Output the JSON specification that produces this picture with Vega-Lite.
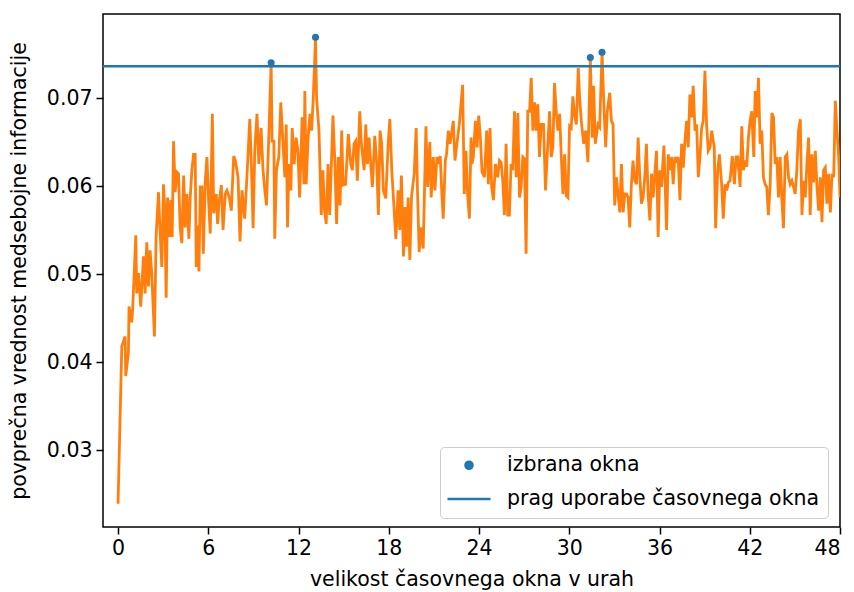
{
"$schema": "https://vega.github.io/schema/vega-lite/v6.json",
"width": 737, "height": 513,
"autosize": {"type": "none"},
"padding": {"left": 103, "top": 14, "right": 14, "bottom": 65},
"background": "white",
"config": {"view": {"stroke": "black", "strokeWidth": 1.5}, "font": "DejaVu Sans",
"legend": {"orient": "none", "legendX": 337, "legendY": 433, "title": null,
"labelFontSize": 20.5, "labelFont": "DejaVu Sans", "labelColor": "black", "labelLimit": 500,
"symbolStrokeWidth": 2.5, "symbolStrokeColor": "#1f77b4", "symbolOffset": -2,
"strokeColor": "#cccccc", "fillColor": "white", "cornerRadius": 4, "padding": 8,
"rowPadding": -2, "labelOffset": 15}},
"datasets": {
"sel": [{"h":10.18,"v":0.074,"s":"izbrana okna"},{"h":13.13,"v":0.0769,"s":"izbrana okna"},{"h":31.4,"v":0.0746,"s":"izbrana okna"},{"h":32.18,"v":0.0752,"s":"izbrana okna"}],
"thr": [{"v":0.07362}],
"mi": [{"h":0,"v":0.0239},{"h":0.25,"v":0.0418},{"h":0.47,"v":0.0429},{"h":0.51,"v":0.0384},{"h":0.69,"v":0.0411},{"h":0.73,"v":0.0463},{"h":0.91,"v":0.0445},{"h":0.98,"v":0.0463},{"h":1.18,"v":0.0544},{"h":1.24,"v":0.0478},{"h":1.36,"v":0.0501},{"h":1.51,"v":0.0463},{"h":1.69,"v":0.052},{"h":1.8,"v":0.0478},{"h":1.91,"v":0.0536},{"h":2.02,"v":0.0486},{"h":2.13,"v":0.0527},{"h":2.24,"v":0.0501},{"h":2.42,"v":0.0429},{"h":2.53,"v":0.0542},{"h":2.69,"v":0.0593},{"h":2.8,"v":0.0546},{"h":2.91,"v":0.0508},{"h":3.02,"v":0.0602},{"h":3.1,"v":0.0576},{"h":3.2,"v":0.0473},{"h":3.29,"v":0.0587},{"h":3.42,"v":0.0542},{"h":3.51,"v":0.0584},{"h":3.6,"v":0.0542},{"h":3.69,"v":0.0651},{"h":3.8,"v":0.0593},{"h":3.91,"v":0.0616},{"h":4.02,"v":0.0614},{"h":4.13,"v":0.0553},{"h":4.24,"v":0.0535},{"h":4.36,"v":0.0612},{"h":4.47,"v":0.0553},{"h":4.58,"v":0.0591},{"h":4.71,"v":0.054},{"h":4.8,"v":0.0587},{"h":4.91,"v":0.0618},{"h":5.02,"v":0.0636},{"h":5.13,"v":0.0636},{"h":5.2,"v":0.0508},{"h":5.29,"v":0.0555},{"h":5.38,"v":0.0503},{"h":5.47,"v":0.0599},{"h":5.58,"v":0.0599},{"h":5.67,"v":0.0523},{"h":5.8,"v":0.0606},{"h":5.91,"v":0.0633},{"h":6.02,"v":0.0584},{"h":6.13,"v":0.0546},{"h":6.27,"v":0.0682},{"h":6.36,"v":0.0569},{"h":6.53,"v":0.0591},{"h":6.62,"v":0.0557},{"h":6.71,"v":0.058},{"h":6.87,"v":0.0601},{"h":6.98,"v":0.055},{"h":7.13,"v":0.0591},{"h":7.24,"v":0.0595},{"h":7.4,"v":0.0587},{"h":7.53,"v":0.0572},{"h":7.69,"v":0.0634},{"h":7.8,"v":0.0629},{"h":7.98,"v":0.061},{"h":8.11,"v":0.0537},{"h":8.24,"v":0.0595},{"h":8.42,"v":0.0563},{"h":8.58,"v":0.0614},{"h":8.76,"v":0.0676},{"h":8.87,"v":0.0621},{"h":8.98,"v":0.0552},{"h":9.09,"v":0.064},{"h":9.24,"v":0.0682},{"h":9.36,"v":0.0625},{"h":9.51,"v":0.0666},{"h":9.64,"v":0.0618},{"h":9.76,"v":0.0595},{"h":9.87,"v":0.0578},{"h":10.02,"v":0.0655},{"h":10.18,"v":0.074},{"h":10.24,"v":0.0651},{"h":10.36,"v":0.0651},{"h":10.42,"v":0.054},{"h":10.53,"v":0.0618},{"h":10.69,"v":0.0633},{"h":10.82,"v":0.0695},{"h":10.96,"v":0.0651},{"h":11.09,"v":0.061},{"h":11.18,"v":0.067},{"h":11.27,"v":0.0553},{"h":11.36,"v":0.0625},{"h":11.49,"v":0.0595},{"h":11.58,"v":0.0666},{"h":11.71,"v":0.0625},{"h":11.84,"v":0.0655},{"h":11.96,"v":0.064},{"h":12.07,"v":0.0587},{"h":12.16,"v":0.0633},{"h":12.24,"v":0.0678},{"h":12.36,"v":0.0602},{"h":12.42,"v":0.0708},{"h":12.51,"v":0.0602},{"h":12.64,"v":0.0655},{"h":12.76,"v":0.0682},{"h":12.87,"v":0.0663},{"h":12.98,"v":0.07},{"h":13.13,"v":0.0769},{"h":13.2,"v":0.07},{"h":13.36,"v":0.0663},{"h":13.51,"v":0.0567},{"h":13.62,"v":0.0618},{"h":13.73,"v":0.0572},{"h":13.84,"v":0.0557},{"h":13.96,"v":0.0625},{"h":14.07,"v":0.0567},{"h":14.2,"v":0.0633},{"h":14.29,"v":0.068},{"h":14.42,"v":0.0625},{"h":14.53,"v":0.0557},{"h":14.64,"v":0.0633},{"h":14.76,"v":0.0578},{"h":14.87,"v":0.0663},{"h":14.96,"v":0.0601},{"h":15.13,"v":0.0602},{"h":15.31,"v":0.0659},{"h":15.47,"v":0.0625},{"h":15.58,"v":0.0618},{"h":15.69,"v":0.0648},{"h":15.8,"v":0.0651},{"h":15.91,"v":0.0606},{"h":16.07,"v":0.0685},{"h":16.18,"v":0.0648},{"h":16.36,"v":0.0618},{"h":16.47,"v":0.067},{"h":16.58,"v":0.0625},{"h":16.69,"v":0.0655},{"h":16.8,"v":0.0625},{"h":16.91,"v":0.0599},{"h":17.07,"v":0.0657},{"h":17.2,"v":0.0625},{"h":17.31,"v":0.0567},{"h":17.42,"v":0.0663},{"h":17.53,"v":0.0648},{"h":17.64,"v":0.0595},{"h":17.8,"v":0.0586},{"h":17.96,"v":0.0648},{"h":18.07,"v":0.0676},{"h":18.2,"v":0.0618},{"h":18.36,"v":0.0572},{"h":18.47,"v":0.054},{"h":18.62,"v":0.0595},{"h":18.73,"v":0.055},{"h":18.84,"v":0.0612},{"h":18.98,"v":0.052},{"h":19.09,"v":0.0576},{"h":19.18,"v":0.0531},{"h":19.29,"v":0.0587},{"h":19.4,"v":0.0516},{"h":19.51,"v":0.0587},{"h":19.69,"v":0.0614},{"h":19.82,"v":0.0666},{"h":19.91,"v":0.0595},{"h":20.02,"v":0.0525},{"h":20.16,"v":0.0553},{"h":20.29,"v":0.0529},{"h":20.38,"v":0.0599},{"h":20.47,"v":0.0668},{"h":20.58,"v":0.0599},{"h":20.73,"v":0.065},{"h":20.82,"v":0.0587},{"h":20.96,"v":0.0633},{"h":21.07,"v":0.0595},{"h":21.2,"v":0.0633},{"h":21.31,"v":0.0625},{"h":21.42,"v":0.0634},{"h":21.53,"v":0.0591},{"h":21.62,"v":0.0563},{"h":21.76,"v":0.0629},{"h":21.84,"v":0.0636},{"h":21.96,"v":0.0663},{"h":22.07,"v":0.0648},{"h":22.2,"v":0.0663},{"h":22.29,"v":0.0674},{"h":22.4,"v":0.0629},{"h":22.53,"v":0.0648},{"h":22.69,"v":0.067},{"h":22.91,"v":0.0715},{"h":23.02,"v":0.0591},{"h":23.13,"v":0.064},{"h":23.24,"v":0.0591},{"h":23.36,"v":0.0563},{"h":23.47,"v":0.0655},{"h":23.53,"v":0.0625},{"h":23.62,"v":0.0633},{"h":23.76,"v":0.0674},{"h":23.87,"v":0.0644},{"h":23.98,"v":0.068},{"h":24.09,"v":0.0655},{"h":24.2,"v":0.0616},{"h":24.36,"v":0.061},{"h":24.51,"v":0.0663},{"h":24.62,"v":0.0602},{"h":24.73,"v":0.0666},{"h":24.84,"v":0.0599},{"h":24.96,"v":0.0584},{"h":25.09,"v":0.0625},{"h":25.24,"v":0.061},{"h":25.36,"v":0.0629},{"h":25.47,"v":0.0627},{"h":25.58,"v":0.0606},{"h":25.69,"v":0.0567},{"h":25.8,"v":0.0648},{"h":25.91,"v":0.0567},{"h":26.02,"v":0.0567},{"h":26.13,"v":0.0625},{"h":26.24,"v":0.0618},{"h":26.36,"v":0.0685},{"h":26.47,"v":0.061},{"h":26.58,"v":0.0683},{"h":26.69,"v":0.0587},{"h":26.8,"v":0.0599},{"h":26.91,"v":0.0633},{"h":27.02,"v":0.0631},{"h":27.13,"v":0.0523},{"h":27.24,"v":0.0685},{"h":27.36,"v":0.0685},{"h":27.47,"v":0.0723},{"h":27.58,"v":0.0663},{"h":27.69,"v":0.0695},{"h":27.8,"v":0.0663},{"h":27.91,"v":0.0693},{"h":28.02,"v":0.0633},{"h":28.13,"v":0.067},{"h":28.29,"v":0.067},{"h":28.42,"v":0.0595},{"h":28.53,"v":0.0633},{"h":28.69,"v":0.0685},{"h":28.8,"v":0.0633},{"h":28.91,"v":0.0644},{"h":29.02,"v":0.0717},{"h":29.13,"v":0.0685},{"h":29.24,"v":0.0663},{"h":29.36,"v":0.0682},{"h":29.47,"v":0.0633},{"h":29.58,"v":0.0591},{"h":29.69,"v":0.0636},{"h":29.8,"v":0.0589},{"h":29.91,"v":0.0587},{"h":30.02,"v":0.0668},{"h":30.13,"v":0.0666},{"h":30.24,"v":0.0702},{"h":30.36,"v":0.068},{"h":30.47,"v":0.067},{"h":30.6,"v":0.0734},{"h":30.69,"v":0.07},{"h":30.8,"v":0.0674},{"h":30.96,"v":0.0648},{"h":31.09,"v":0.0663},{"h":31.24,"v":0.0627},{"h":31.4,"v":0.0746},{"h":31.53,"v":0.0655},{"h":31.62,"v":0.0714},{"h":31.73,"v":0.0648},{"h":31.91,"v":0.067},{"h":32.02,"v":0.0667},{"h":32.18,"v":0.0752},{"h":32.29,"v":0.0697},{"h":32.42,"v":0.0644},{"h":32.53,"v":0.0685},{"h":32.69,"v":0.0706},{"h":32.8,"v":0.0674},{"h":32.91,"v":0.067},{"h":33.02,"v":0.0578},{"h":33.13,"v":0.061},{"h":33.24,"v":0.0591},{"h":33.36,"v":0.057},{"h":33.47,"v":0.0625},{"h":33.58,"v":0.057},{"h":33.69,"v":0.0591},{"h":33.8,"v":0.0591},{"h":33.91,"v":0.0587},{"h":34.02,"v":0.0553},{"h":34.13,"v":0.0602},{"h":34.24,"v":0.0629},{"h":34.36,"v":0.0606},{"h":34.47,"v":0.0602},{"h":34.58,"v":0.0655},{"h":34.69,"v":0.061},{"h":34.8,"v":0.058},{"h":34.91,"v":0.0587},{"h":35.02,"v":0.061},{"h":35.13,"v":0.0648},{"h":35.24,"v":0.0591},{"h":35.36,"v":0.0561},{"h":35.47,"v":0.0614},{"h":35.58,"v":0.0587},{"h":35.69,"v":0.0614},{"h":35.8,"v":0.064},{"h":35.91,"v":0.0542},{"h":36.02,"v":0.0618},{"h":36.13,"v":0.0599},{"h":36.29,"v":0.0646},{"h":36.38,"v":0.0599},{"h":36.47,"v":0.055},{"h":36.58,"v":0.0636},{"h":36.69,"v":0.0618},{"h":36.8,"v":0.0633},{"h":36.91,"v":0.0602},{"h":37.02,"v":0.0633},{"h":37.13,"v":0.0629},{"h":37.24,"v":0.0633},{"h":37.36,"v":0.0584},{"h":37.47,"v":0.0648},{"h":37.58,"v":0.0621},{"h":37.69,"v":0.0651},{"h":37.8,"v":0.0674},{"h":37.91,"v":0.0644},{"h":38.02,"v":0.0704},{"h":38.13,"v":0.0678},{"h":38.24,"v":0.0714},{"h":38.36,"v":0.0663},{"h":38.47,"v":0.067},{"h":38.58,"v":0.061},{"h":38.69,"v":0.0633},{"h":38.8,"v":0.0666},{"h":38.91,"v":0.0674},{"h":39.02,"v":0.0731},{"h":39.13,"v":0.067},{"h":39.24,"v":0.064},{"h":39.36,"v":0.0644},{"h":39.47,"v":0.0663},{"h":39.64,"v":0.0644},{"h":39.73,"v":0.0552},{"h":39.87,"v":0.0618},{"h":39.98,"v":0.0636},{"h":40.13,"v":0.0602},{"h":40.24,"v":0.0563},{"h":40.36,"v":0.0602},{"h":40.47,"v":0.0595},{"h":40.58,"v":0.0604},{"h":40.69,"v":0.0606},{"h":40.84,"v":0.0634},{"h":40.98,"v":0.0602},{"h":41.09,"v":0.0633},{"h":41.2,"v":0.0633},{"h":41.36,"v":0.0599},{"h":41.47,"v":0.0668},{"h":41.58,"v":0.0618},{"h":41.69,"v":0.0629},{"h":41.8,"v":0.0622},{"h":41.91,"v":0.0655},{"h":42.02,"v":0.0674},{"h":42.13,"v":0.0685},{"h":42.27,"v":0.0633},{"h":42.36,"v":0.0708},{"h":42.47,"v":0.0678},{"h":42.58,"v":0.0723},{"h":42.69,"v":0.0648},{"h":42.8,"v":0.0663},{"h":42.91,"v":0.061},{"h":43.02,"v":0.0602},{"h":43.13,"v":0.0599},{"h":43.24,"v":0.0567},{"h":43.36,"v":0.0602},{"h":43.47,"v":0.0683},{"h":43.58,"v":0.0678},{"h":43.69,"v":0.0625},{"h":43.8,"v":0.0633},{"h":43.91,"v":0.0587},{"h":44.02,"v":0.0633},{"h":44.13,"v":0.0587},{"h":44.24,"v":0.0552},{"h":44.36,"v":0.0633},{"h":44.47,"v":0.0636},{"h":44.58,"v":0.061},{"h":44.69,"v":0.0602},{"h":44.8,"v":0.0606},{"h":44.91,"v":0.0599},{"h":45.02,"v":0.0591},{"h":45.13,"v":0.0618},{"h":45.24,"v":0.0663},{"h":45.36,"v":0.0676},{"h":45.47,"v":0.0567},{"h":45.58,"v":0.0606},{"h":45.69,"v":0.0587},{"h":45.8,"v":0.0625},{"h":45.91,"v":0.0655},{"h":46.02,"v":0.0567},{"h":46.13,"v":0.0636},{"h":46.24,"v":0.0604},{"h":46.36,"v":0.064},{"h":46.47,"v":0.0599},{"h":46.58,"v":0.0572},{"h":46.69,"v":0.061},{"h":46.8,"v":0.0559},{"h":46.91,"v":0.0618},{"h":47.02,"v":0.0621},{"h":47.13,"v":0.058},{"h":47.24,"v":0.0614},{"h":47.36,"v":0.057},{"h":47.47,"v":0.0614},{"h":47.58,"v":0.061},{"h":47.69,"v":0.0697},{"h":47.8,"v":0.0663},{"h":47.91,"v":0.0633},{"h":48.0,"v":0.0587}]
},
"layer": [
{
"data": {"name": "mi"},
"mark": {"type": "line", "color": "#ff7f0e", "strokeWidth": 2.8, "clip": true},
"encoding": {
"x": {"field": "h", "type": "quantitative",
"scale": {"domain": [-1, 48], "nice": false, "zero": false},
"axis": {"title": "velikost časovnega okna v urah", "values": [0,6,12,18,24,30,36,42,48], "format": "d",
"grid": false, "domain": false, "ticks": true, "tickColor": "black", "tickSize": 7, "tickWidth": 1.5,
"labelFontSize": 20.5, "labelColor": "black", "labelFont": "DejaVu Sans", "labelPadding": 4,
"titleFontSize": 20.5, "titleFontWeight": "normal", "titleColor": "black", "titleFont": "DejaVu Sans", "titlePadding": 11}},
"y": {"field": "v", "type": "quantitative",
"scale": {"domain": [0.02125, 0.07955], "nice": false, "zero": false},
"axis": {"title": "povprečna vrednost medsebojne informacije", "values": [0.03,0.04,0.05,0.06,0.07], "format": ".2f",
"grid": false, "domain": false, "ticks": true, "tickColor": "black", "tickSize": 7, "tickWidth": 1.5,
"labelFontSize": 20.5, "labelColor": "black", "labelFont": "DejaVu Sans", "labelPadding": 4,
"titleFontSize": 20.5, "titleFontWeight": "normal", "titleColor": "black", "titleFont": "DejaVu Sans", "titlePadding": 17}}
}
},
{
"data": {"name": "thr"},
"mark": {"type": "rule", "strokeWidth": 2.5, "color": "#1f77b4"},
"encoding": {
"y": {"field": "v", "type": "quantitative"}
}
},
{
"data": {"name": "sel"},
"mark": {"type": "point", "filled": true, "opacity": 1},
"encoding": {
"x": {"field": "h", "type": "quantitative"},
"y": {"field": "v", "type": "quantitative"},
"color": {"field": "s", "type": "nominal",
"scale": {"domain": ["izbrana okna", "prag uporabe časovnega okna"], "range": ["#1f77b4", "#1f77b4"]}},
"shape": {"field": "s", "type": "nominal",
"scale": {"domain": ["izbrana okna", "prag uporabe časovnega okna"], "range": ["circle", "stroke"]}},
"size": {"field": "s", "type": "nominal",
"scale": {"type": "ordinal", "domain": ["izbrana okna", "prag uporabe časovnega okna"], "range": [50, 1849]}}
}
}
]
}
